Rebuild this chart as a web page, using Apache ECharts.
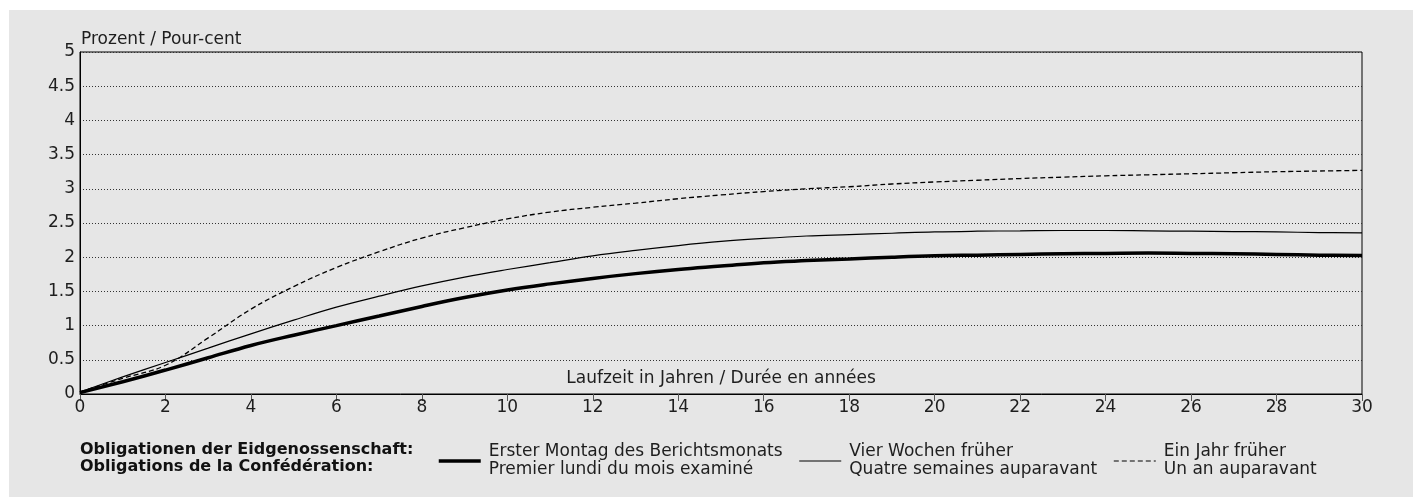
<!DOCTYPE html>
<html>
<head>
<meta charset="utf-8">
<script src="https://cdn.jsdelivr.net/npm/echarts@6/dist/echarts.min.js"></script>
<style>
  html, body { margin: 0; padding: 0; background: #ffffff; }
  #chart { position: absolute; left: 9px; top: 10px; width: 1404px; height: 487px; background: #e6e6e6; }
</style>
</head>
<body>
<div id="chart"></div>
<script>
// Laufzeit in Jahren
var maturities = [0, 1, 2, 3, 4, 5, 6, 7, 8, 9, 10, 11, 12, 13, 14, 15, 16, 17, 18, 19, 20, 21, 22, 23, 24, 25, 26, 27, 28, 29, 30];

// Zinssätze in Prozent
var firstMonday = [0.02, 0.18, 0.35, 0.53, 0.71, 0.86, 1.00, 1.14, 1.28, 1.41, 1.52, 1.61, 1.69, 1.76, 1.82, 1.87, 1.92, 1.95, 1.975, 2.00, 2.02, 2.03, 2.04, 2.05, 2.055, 2.06, 2.055, 2.05, 2.04, 2.03, 2.025];
var fourWeeksEarlier = [0.03, 0.25, 0.46, 0.67, 0.88, 1.08, 1.27, 1.43, 1.58, 1.71, 1.82, 1.92, 2.02, 2.10, 2.17, 2.23, 2.275, 2.31, 2.33, 2.35, 2.37, 2.38, 2.385, 2.39, 2.39, 2.385, 2.38, 2.375, 2.37, 2.36, 2.355];
var oneYearEarlier = [0.03, 0.23, 0.42, 0.82, 1.24, 1.57, 1.85, 2.08, 2.28, 2.43, 2.56, 2.66, 2.73, 2.79, 2.855, 2.91, 2.96, 3.00, 3.03, 3.07, 3.10, 3.125, 3.15, 3.17, 3.19, 3.205, 3.22, 3.235, 3.25, 3.26, 3.27];

var seriesNames = [
    'Erster Montag des Berichtsmonats\nPremier lundi du mois examiné',
    'Vier Wochen früher\nQuatre semaines auparavant',
    'Ein Jahr früher\nUn an auparavant'
];

var legendTitle = 'Obligationen der Eidgenossenschaft:\nObligations de la Confédération:';
var yAxisTitle = 'Prozent / Pour-cent';
var xAxisTitle = 'Laufzeit in Jahren / Durée en années';

var font = 'DejaVu Sans';
var textColor = '#1e1e1e';

function pairs(values) {
    return maturities.map(function (m, i) { return [m, values[i]]; });
}

var chart = echarts.init(document.getElementById('chart'));

chart.setOption({
    animation: false,
    title: {
        text: legendTitle,
        left: 71,
        top: 431,
        padding: 0,
        textStyle: { fontFamily: font, fontWeight: 'bold', fontSize: 16, lineHeight: 17, color: '#111' }
    },
    legend: {
        left: 428,
        top: 433,
        padding: 0,
        itemWidth: 42,
        itemHeight: 14,
        itemGap: 16,
        selectedMode: false,
        itemStyle: { color: 'rgba(0,0,0,0)', borderWidth: 0, opacity: 0 },
        textStyle: { fontFamily: font, fontSize: 17, lineHeight: 18, color: textColor, padding: [0, 0, 0, 3] },
        data: [
            { name: seriesNames[0], lineStyle: { width: 3.5 } },
            { name: seriesNames[1], lineStyle: { width: 1.2 } },
            { name: seriesNames[2], lineStyle: { width: 1.2 } }
        ]
    },
    grid: {
        left: 71,
        right: 51,
        top: 42,
        bottom: 103,
        show: true,
        borderColor: '#000',
        borderWidth: 1
    },
    xAxis: {
        type: 'value',
        min: 0,
        max: 30,
        interval: 2,
        name: xAxisTitle,
        nameLocation: 'middle',
        nameGap: -24,
        nameTextStyle: { fontFamily: font, fontSize: 17, color: textColor },
        axisLine: { lineStyle: { color: '#000', width: 1 } },
        axisTick: { show: true, length: 7, lineStyle: { color: '#555' } },
        axisLabel: { fontFamily: font, fontSize: 17, color: textColor, margin: 5 },
        splitLine: { show: false }
    },
    yAxis: {
        type: 'value',
        min: 0,
        max: 5,
        interval: 0.5,
        name: yAxisTitle,
        nameLocation: 'end',
        nameGap: 4,
        nameTextStyle: { fontFamily: font, fontSize: 17, color: textColor, align: 'left', padding: [0, 0, 0, 1] },
        axisLine: { show: true, lineStyle: { color: '#000', width: 1 } },
        axisTick: { show: false },
        axisLabel: { fontFamily: font, fontSize: 17, color: textColor, margin: 5 },
        splitLine: { show: true, lineStyle: { color: '#333', width: 1, type: [1, 2] } }
    },
    series: [
        {
            name: seriesNames[0],
            type: 'line',
            data: pairs(firstMonday),
            smooth: 0.4,
            symbol: 'none',
            lineStyle: { color: '#000', width: 3.5 },
            z: 4
        },
        {
            name: seriesNames[1],
            type: 'line',
            data: pairs(fourWeeksEarlier),
            smooth: 0.4,
            symbol: 'none',
            lineStyle: { color: '#000', width: 1.2 },
            z: 3
        },
        {
            name: seriesNames[2],
            type: 'line',
            data: pairs(oneYearEarlier),
            smooth: 0.4,
            symbol: 'none',
            lineStyle: { color: '#000', width: 1.3, type: [5, 3] },
            z: 3
        }
    ]
});
</script>
</body>
</html>
